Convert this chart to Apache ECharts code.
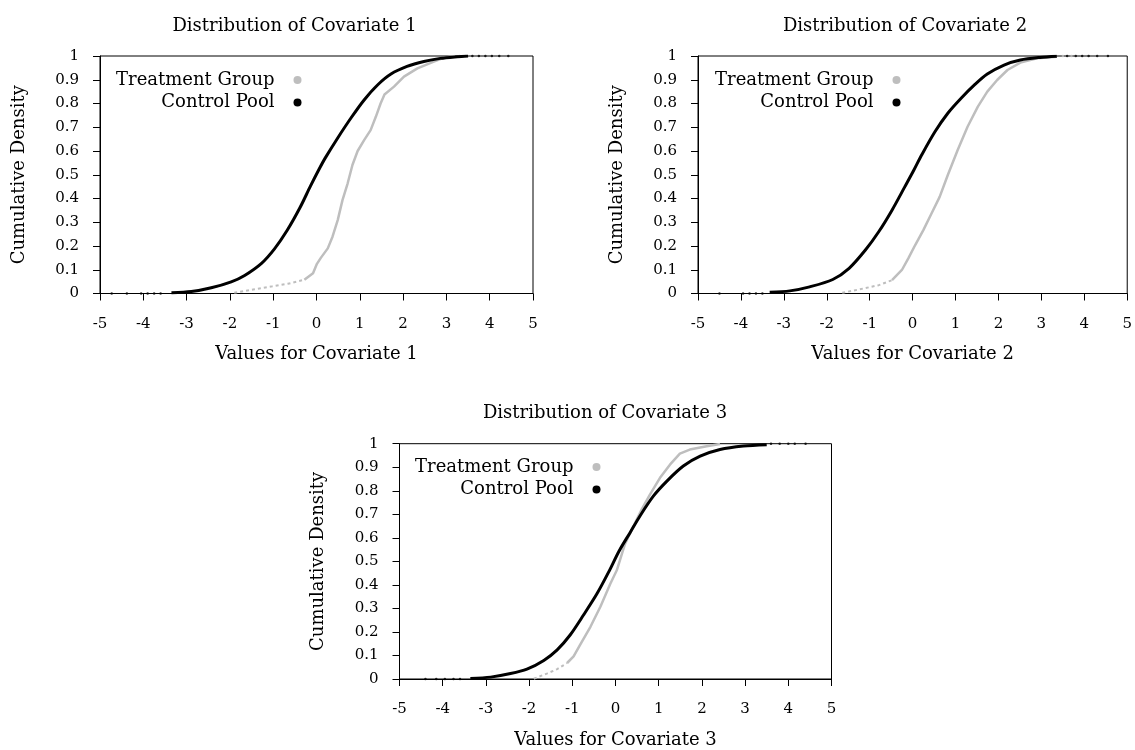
<!DOCTYPE html>
<html>
<head>
<meta charset="utf-8">
<title>Distribution of Covariates</title>
<script src="https://cdn.jsdelivr.net/npm/echarts@6/dist/echarts.min.js"></script>
<style>
  html, body { margin: 0; padding: 0; background: #ffffff; }
  #chart { width: 1135px; height: 750px; }
</style>
</head>
<body>
<div id="chart"></div>
<script>
// ---- tick values shared by every panel ----
const xTickValues = [-5, -4, -3, -2, -1, 0, 1, 2, 3, 4, 5];
const yTickValues = [0, 0.1, 0.2, 0.3, 0.4, 0.5, 0.6, 0.7, 0.8, 0.9, 1];

// ---- labels ----
const panelTitles = ['Distribution of Covariate 1', 'Distribution of Covariate 2', 'Distribution of Covariate 3'];
const xAxisNames = ['Values for Covariate 1', 'Values for Covariate 2', 'Values for Covariate 3'];
const yAxisName = 'Cumulative Density';
const groupNames = ['Treatment Group', 'Control Pool'];

// ---- Covariate 1: empirical CDFs [value, cumulative share] ----
const cov1ControlCdf = [
  [-3.35, 0.003], [-2.89, 0.008], [-2.43, 0.024], [-1.97, 0.049], [-1.66, 0.076],
  [-1.27, 0.127], [-0.97, 0.188], [-0.68, 0.265], [-0.38, 0.362], [-0.14, 0.452],
  [0.05, 0.52], [0.20, 0.570], [0.49, 0.655], [0.80, 0.740], [1.10, 0.815],
  [1.41, 0.878], [1.72, 0.924], [2.09, 0.956], [2.48, 0.977], [2.86, 0.990],
  [3.25, 0.997], [3.50, 1.0]
];
const cov1TreatedLowTail = [
  [-1.90, 0.003], [-1.43, 0.018], [-1.05, 0.029], [-0.66, 0.041], [-0.28, 0.058]
];
const cov1TreatedCdf = [
  [-0.28, 0.058], [-0.08, 0.085], [0.01, 0.125], [0.10, 0.150], [0.26, 0.190],
  [0.37, 0.239], [0.49, 0.309], [0.60, 0.393], [0.72, 0.464], [0.83, 0.541],
  [0.95, 0.600], [1.10, 0.646], [1.25, 0.688], [1.37, 0.744], [1.48, 0.800],
  [1.57, 0.838], [1.79, 0.871], [2.02, 0.913], [2.33, 0.948], [2.71, 0.976],
  [2.95, 0.993], [3.20, 1.0]
];
const cov1ControlLowDots = [-4.73, -4.38, -4.05, -3.90, -3.75, -3.60];
const cov1ControlHighDots = [3.60, 3.75, 3.90, 4.05, 4.22, 4.43];
const cov1TreatedHighDots = [3.30, 3.45];

// ---- Covariate 2 ----
const cov2ControlCdf = [
  [-3.33, 0.005], [-2.86, 0.011], [-2.40, 0.028], [-1.86, 0.059], [-1.48, 0.106],
  [-1.10, 0.183], [-0.79, 0.260], [-0.48, 0.351], [-0.18, 0.450], [0.03, 0.520],
  [0.21, 0.583], [0.52, 0.681], [0.82, 0.759], [1.13, 0.822], [1.44, 0.878],
  [1.74, 0.924], [2.13, 0.962], [2.51, 0.983], [2.97, 0.994], [3.36, 0.999]
];
const cov2TreatedLowTail = [
  [-1.64, 0.003], [-1.25, 0.017], [-0.79, 0.035], [-0.48, 0.056]
];
const cov2TreatedCdf = [
  [-0.48, 0.056], [-0.25, 0.099], [-0.10, 0.148], [0.06, 0.204], [0.25, 0.267],
  [0.44, 0.337], [0.63, 0.407], [0.82, 0.499], [1.05, 0.604], [1.28, 0.702],
  [1.52, 0.787], [1.74, 0.850], [1.97, 0.899], [2.21, 0.941], [2.51, 0.972],
  [2.90, 0.990], [3.36, 0.997]
];
const cov2ControlLowDots = [-4.50, -3.95, -3.80, -3.65, -3.50];
const cov2ControlHighDots = [3.60, 3.80, 3.95, 4.10, 4.30, 4.55];
const cov2TreatedHighDots = [3.50, 3.70];

// ---- Covariate 3 ----
const cov3ControlCdf = [
  [-3.36, 0.002], [-2.89, 0.008], [-2.43, 0.023], [-2.05, 0.042], [-1.66, 0.079],
  [-1.35, 0.124], [-1.05, 0.187], [-0.74, 0.272], [-0.43, 0.362], [-0.16, 0.454],
  [0.09, 0.546], [0.34, 0.623], [0.57, 0.694], [0.88, 0.778], [1.19, 0.841],
  [1.57, 0.905], [1.96, 0.947], [2.42, 0.975], [2.96, 0.990], [3.50, 0.996]
];
const cov3TreatedLowTail = [
  [-1.89, 0.001], [-1.59, 0.023], [-1.35, 0.042], [-1.12, 0.068]
];
const cov3TreatedCdf = [
  [-1.12, 0.068], [-0.97, 0.096], [-0.82, 0.145], [-0.58, 0.222], [-0.35, 0.307],
  [-0.12, 0.405], [0.03, 0.462], [0.22, 0.574], [0.42, 0.651], [0.61, 0.722],
  [0.80, 0.785], [1.03, 0.855], [1.26, 0.911], [1.49, 0.958], [1.72, 0.975],
  [2.11, 0.989], [2.42, 0.999]
];
const cov3ControlLowDots = [-4.40, -4.15, -3.95, -3.75, -3.60];
const cov3ControlHighDots = [3.60, 3.80, 4.00, 4.15, 4.40];
const cov3TreatedHighDots = [];

// ---- styling ----
const FONT = "'DejaVu Serif', 'Liberation Serif', serif";
const TREATED_COLOR = '#bebebe';
const CONTROL_COLOR = '#000000';

const panels = [
  { control: cov1ControlCdf, treatedTail: cov1TreatedLowTail, treated: cov1TreatedCdf,
    lowDots: cov1ControlLowDots, highDots: cov1ControlHighDots, treatedHigh: cov1TreatedHighDots,
    grid: { left: 100, top: 56, width: 433, height: 237.5 }, titleX: 289.5, titleY: 12, legend: { left: 104.5, top: 65 } },
  { control: cov2ControlCdf, treatedTail: cov2TreatedLowTail, treated: cov2TreatedCdf,
    lowDots: cov2ControlLowDots, highDots: cov2ControlHighDots, treatedHigh: cov2TreatedHighDots,
    grid: { left: 698, top: 56, width: 433, height: 237.5 }, titleX: 900, titleY: 12, legend: { left: 703.5, top: 65 } },
  { control: cov3ControlCdf, treatedTail: cov3TreatedLowTail, treated: cov3TreatedCdf,
    lowDots: cov3ControlLowDots, highDots: cov3ControlHighDots, treatedHigh: cov3TreatedHighDots,
    grid: { left: 399.5, top: 443.7, width: 432, height: 237 }, titleX: 600, titleY: 399, legend: { left: 403.5, top: 452 } }
];

const xStep = xTickValues[1] - xTickValues[0];
const yStep = Math.round((yTickValues[1] - yTickValues[0]) * 1000) / 1000;

const grids = [], xAxes = [], yAxes = [], titles = [], legends = [], series = [];

panels.forEach((p, i) => {
  grids.push(Object.assign({ show: true, borderColor: '#000', borderWidth: 1, backgroundColor: 'transparent' }, p.grid));

  titles.push({
    text: panelTitles[i], left: p.titleX, top: p.titleY, textAlign: 'center',
    textStyle: { fontFamily: FONT, fontSize: 18, fontWeight: 'normal', color: '#000' }
  });

  xAxes.push({
    type: 'value', gridIndex: i,
    min: xTickValues[0], max: xTickValues[xTickValues.length - 1], interval: xStep,
    name: xAxisNames[i], nameLocation: 'middle', nameGap: 52,
    nameTextStyle: { fontFamily: FONT, fontSize: 18, color: '#000' },
    axisLine: { show: true, onZero: false, lineStyle: { color: '#000', width: 1 } },
    axisTick: { show: true, inside: false, length: 7, lineStyle: { color: '#000' } },
    axisLabel: { fontFamily: FONT, fontSize: 15, color: '#000', margin: 23 },
    splitLine: { show: false }
  });

  yAxes.push({
    type: 'value', gridIndex: i,
    min: yTickValues[0], max: yTickValues[yTickValues.length - 1], interval: yStep,
    name: yAxisName, nameLocation: 'middle', nameGap: 72,
    nameTextStyle: { fontFamily: FONT, fontSize: 18, color: '#000' },
    axisLine: { show: true, onZero: false, lineStyle: { color: '#000', width: 1 } },
    axisTick: { show: true, inside: false, length: 7, lineStyle: { color: '#000' } },
    axisLabel: { fontFamily: FONT, fontSize: 15, color: '#000', margin: 21 },
    splitLine: { show: false }
  });

  legends.push({
    left: p.legend.left, top: p.legend.top, orient: 'vertical', align: 'right',
    icon: 'circle', itemWidth: 36, itemHeight: 8, itemGap: 2.5,
    selectedMode: false,
    textStyle: { fontFamily: FONT, fontSize: 18, color: '#000', width: 165, lineHeight: 20 },
    data: [
      { name: groupNames[0], itemStyle: { color: TREATED_COLOR, opacity: 1 } },
      { name: groupNames[1], itemStyle: { color: CONTROL_COLOR, opacity: 1 } }
    ]
  });

  // treatment group: sparse lower tail, main curve, top dots
  series.push({
    type: 'line', name: groupNames[0], xAxisIndex: i, yAxisIndex: i,
    data: p.treatedTail, showSymbol: false, silent: true,
    lineStyle: { color: TREATED_COLOR, width: 2, type: [3, 3] },
    itemStyle: { color: TREATED_COLOR }, z: 2
  });
  series.push({
    type: 'line', name: groupNames[0], xAxisIndex: i, yAxisIndex: i,
    data: p.treated, showSymbol: false, silent: true,
    lineStyle: { color: TREATED_COLOR, width: 2.5 },
    itemStyle: { color: TREATED_COLOR }, z: 2
  });
  if (p.treatedHigh.length) {
    series.push({
      type: 'scatter', name: groupNames[0], xAxisIndex: i, yAxisIndex: i,
      data: p.treatedHigh.map(v => [v, 1]), symbol: 'circle', symbolSize: 2.5, silent: true,
      itemStyle: { color: TREATED_COLOR }, z: 2
    });
  }

  // control pool: sparse tail dots and main curve
  series.push({
    type: 'scatter', name: groupNames[1], xAxisIndex: i, yAxisIndex: i,
    data: p.lowDots.map(v => [v, 0]).concat(p.highDots.map(v => [v, 1])),
    symbol: 'circle', symbolSize: 2.5, silent: true,
    itemStyle: { color: CONTROL_COLOR }, z: 3
  });
  series.push({
    type: 'line', name: groupNames[1], xAxisIndex: i, yAxisIndex: i,
    data: p.control, showSymbol: false, smooth: 0.3, silent: true,
    lineStyle: { color: CONTROL_COLOR, width: 3 },
    itemStyle: { color: CONTROL_COLOR }, z: 3
  });
});

const chart = echarts.init(document.getElementById('chart'), null, { renderer: 'canvas' });
chart.setOption({
  animation: false,
  backgroundColor: '#ffffff',
  title: titles,
  legend: legends,
  grid: grids,
  xAxis: xAxes,
  yAxis: yAxes,
  series: series
});
</script>
</body>
</html>
